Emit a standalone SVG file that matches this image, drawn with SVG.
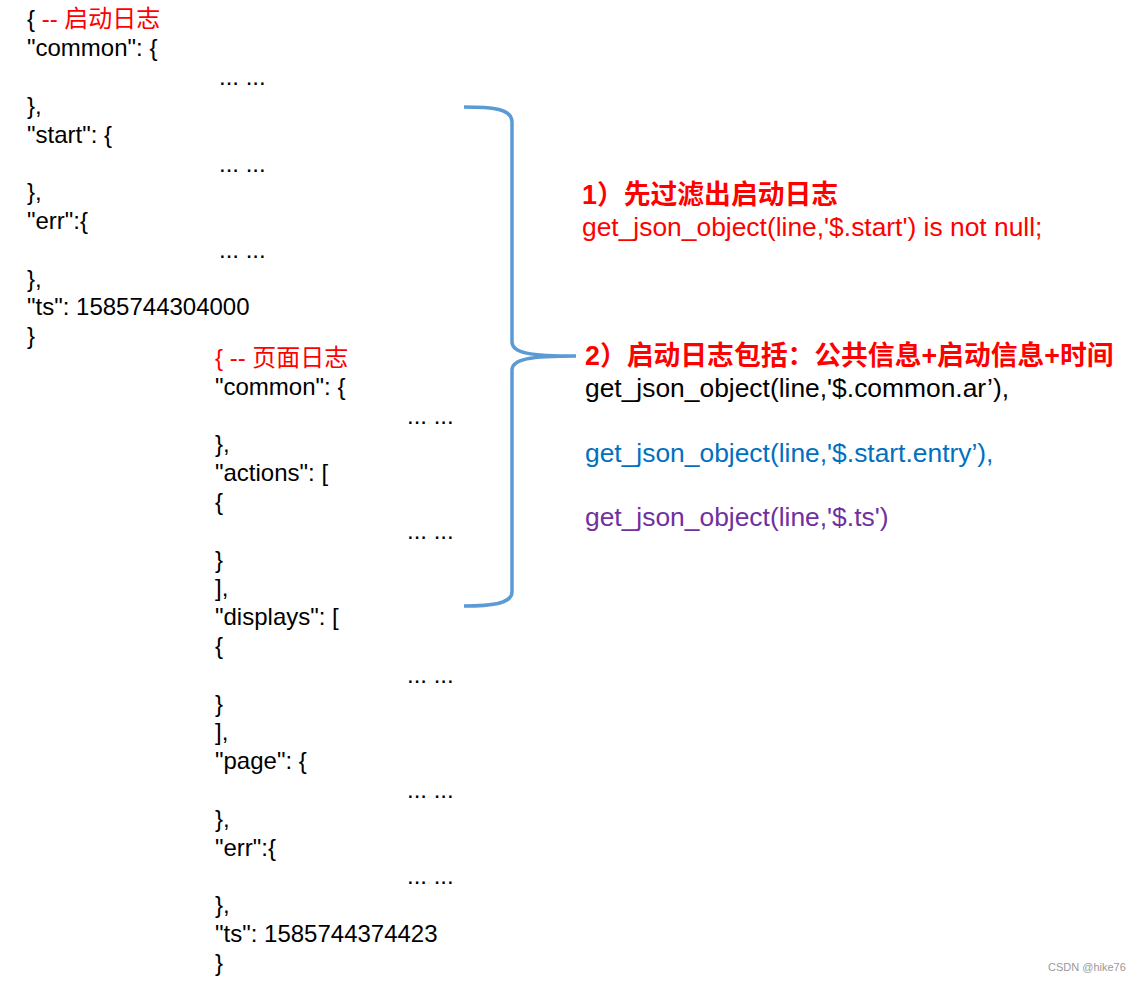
<svg xmlns="http://www.w3.org/2000/svg" width="1142" height="981" viewBox="0 0 1142 981">
<style>
text{font-family:"Liberation Sans","Noto Sans CJK SC",Arial,sans-serif;font-size:24px;fill:#000}
.r{fill:#FF0000}
.b{font-weight:bold;font-size:26.8px}
.rt{font-size:26.4px}
.blue{fill:#0070C0}
.pur{fill:#7030A0}
.brace{fill:none;stroke:#5B9BD5;stroke-width:3.5;stroke-linecap:butt;stroke-linejoin:round}
.wm{font-size:11px;fill:#999}
</style>
<rect width="1142" height="981" fill="#fff"/>
<g id="startlog">
<text x="27" y="27">{ <tspan class="r">-- 启动日志</tspan></text>
<text x="27" y="56">"common": {</text>
<text x="219" y="85">... ...</text>
<text x="27" y="114">},</text>
<text x="27" y="143">"start": {</text>
<text x="219" y="172">... ...</text>
<text x="27" y="200">},</text>
<text x="27" y="229">"err":{</text>
<text x="219" y="258">... ...</text>
<text x="27" y="287">},</text>
<text x="27" y="315">"ts": 1585744304000</text>
<text x="27" y="344">}</text>
</g>
<g id="pagelog">
<text x="215" y="366" class="r">{ -- 页面日志</text>
<text x="215" y="395">"common": {</text>
<text x="407" y="424">... ...</text>
<text x="215" y="452">},</text>
<text x="215" y="481">"actions": [</text>
<text x="215" y="510">{</text>
<text x="407" y="539">... ...</text>
<text x="215" y="568">}</text>
<text x="215" y="596">],</text>
<text x="215" y="625">"displays": [</text>
<text x="215" y="654">{</text>
<text x="407" y="683">... ...</text>
<text x="215" y="712">}</text>
<text x="215" y="740">],</text>
<text x="215" y="769">"page": {</text>
<text x="407" y="798">... ...</text>
<text x="215" y="827">},</text>
<text x="215" y="856">"err":{</text>
<text x="407" y="884">... ...</text>
<text x="215" y="913">},</text>
<text x="215" y="942">"ts": 1585744374423</text>
<text x="215" y="971">}</text>
</g>
<g id="connectors">
<path class="brace" d="M464,107 C490,107 512,108 512,122 L512,342 C512,353 530,356 576,356 M576,356 C530,356 512,359 512,370 L512,592 C512,604 490,606 464,606"/>
</g>
<g id="step1">
<text x="582" y="204" class="r b">1）先过滤出启动日志</text>
<text x="582" y="236" class="r rt">get_json_object(line,'$.start') is not null;</text>
</g>
<g id="step2">
<text x="585" y="365" class="r b">2）启动日志包括：公共信息+启动信息+时间</text>
<text x="585" y="397" class="rt">get_json_object(line,'$.common.ar’),</text>
<text x="585" y="462" class="blue rt">get_json_object(line,'$.start.entry’),</text>
<text x="585" y="526" class="pur rt">get_json_object(line,'$.ts')</text>
</g>
<text x="1048" y="971" class="wm">CSDN @hike76</text>
</svg>
